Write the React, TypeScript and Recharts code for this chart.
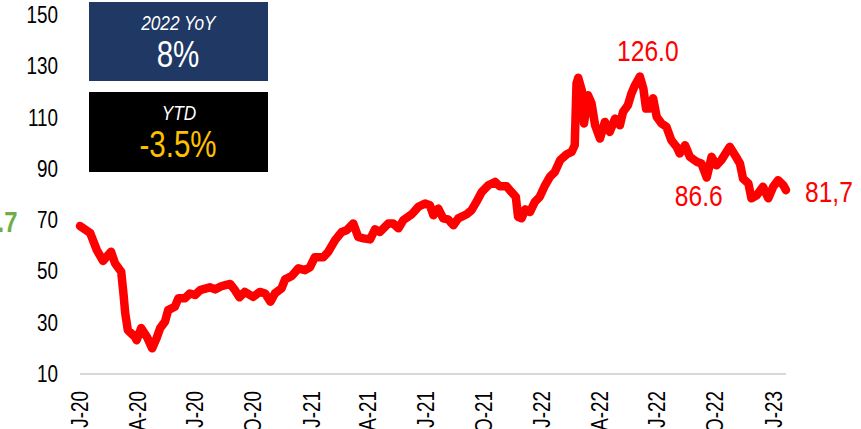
import { LineChart, Line, XAxis, YAxis, ReferenceDot } from 'recharts'

// weeks since 1 Jan 2020
const weeks = [
  0, 2.3, 3.8, 5.2, 7.0, 7.9, 9.3, 9.8, 10.2, 10.8, 12.4, 12.8, 13.8, 15.1, 16.3, 17.3, 18.1, 19.2,
  19.9, 21.4, 22.2, 23.7, 24.8, 26.0, 27.1, 29.3, 30.5, 32.0, 33.9, 35.0, 36.0, 37.2, 39.1, 40.6,
  41.8, 43.0, 44.0, 45.5, 46.3, 47.8, 49.3, 50.8, 51.9, 53.0, 54.9, 56.0, 57.6, 59.1, 60.2, 61.7,
  62.8, 64.0, 65.5, 66.6, 67.7, 69.6, 70.7, 71.9, 73.0, 74.9, 76.4, 77.9, 79.0, 79.8, 80.9, 82.0,
  83.1, 84.3, 85.4, 87.3, 88.4, 89.5, 90.7, 92.2, 93.7, 94.8, 96.3, 97.4, 98.4, 98.9, 99.7, 100.5,
  101.6, 102.7, 103.8, 105.0, 106.1, 107.2, 108.4, 109.9, 111.0, 111.7, 112.1, 112.5, 113.3, 113.8,
  114.7, 115.5, 116.3, 117.4, 118.5, 119.6, 120.8, 121.9, 122.6, 123.7, 124.5, 125.3, 126.4, 127.2,
  127.8, 128.7, 129.4, 130.2, 131.3, 132.4, 133.5, 134.7, 135.4, 136.6, 137.7, 139.2, 140.3, 141.5,
  142.6, 143.7, 144.8, 146.7, 147.9, 149.0, 149.7, 150.9, 151.6, 152.8, 154.2, 155.4, 156.5, 157.6,
  158.8, 159.4,
]

const values = [
  67.7, 65, 58.3, 54.1, 57.7, 53.2, 49.9, 41.6, 33.8, 27.1, 24.5, 23.2, 27.9, 24.5, 20, 24, 27.9, 30.4,
  34.9, 36.2, 39.5, 39.5, 41.4, 40.8, 42.7, 43.8, 43, 44.3, 45.1, 42.7, 39.9, 42, 40.1, 42,
  41.4, 38.2, 41.4, 43.4, 46.9, 48.2, 51.2, 50.5, 51.6, 55.5, 55.5, 57.5, 62.2, 65.4, 66.1, 68.7,
  63.5, 62.9, 62.5, 66.4, 65.4, 68.7, 68.7, 66.8, 70, 72.3, 75.2, 76.5, 75.8, 71.9, 74.5, 70.7,
  70.3, 68, 70.7, 72.3, 73.9, 77.1, 81, 83.6, 84.9, 83.2, 83.2, 81, 79.1, 71.3, 70.7, 74.2,
  73.2, 77.1, 79.1, 83.6, 86.9, 88.8, 93.4, 95.7, 96.6, 99.2, 123.3, 125.5, 120.6, 107.7,
  118.7, 115.5, 107, 101.8, 108.3, 104.4, 109.6, 107, 112.2, 114.8, 119.4, 122.6, 126.0, 121.3,
  113.5, 113.5, 117.5, 110.3, 107.7, 106.4, 101.2, 98.6, 96, 99.2, 94.7, 92.8, 92.1, 86.6,
  94.7, 91.4, 93.4, 98.6, 95.3, 92.1, 86.2, 84.3, 78.5, 79.7, 83, 78.5, 83, 85.6,
  83.6, 81.7,
]

const tickWeeks = [0, 13, 26, 39.1, 52.3, 65.1, 78.1, 91.3, 104.4, 117.3, 130.3, 143.4, 156.6]
const tickLabels = ['J-20', 'A-20', 'J-20', 'O-20', 'J-21', 'A-21', 'J-21', 'O-21', 'J-22', 'A-22', 'J-22', 'O-22', 'J-23']
const yTicks = [10, 30, 50, 70, 90, 110, 130, 150]

const data = weeks.map((w, i) => ({ week: w, value: values[i] }))

// no Arial Narrow available: squeeze Liberation Sans horizontally instead
const FONT = "'Liberation Sans', Arial, sans-serif"
const NARROW = 0.82
const RED = '#ff0000'

function DateTick(props: any) {
  const { x, y, payload } = props
  const label = tickLabels[tickWeeks.indexOf(payload.value)]
  return (
    <text
      transform={`translate(${x},${y + 15}) rotate(-90) scale(${NARROW},1)`}
      textAnchor="end"
      dy="0.35em"
      fontSize={23}
      fontFamily={FONT}
      fill="#000"
    >
      {label}
    </text>
  )
}

function ValueTick(props: any) {
  const { x, y, payload } = props
  return (
    <text
      transform={`translate(${x},${y}) scale(${NARROW},1)`}
      textAnchor="end"
      dy="0.35em"
      fontSize={23}
      fontFamily={FONT}
      fill="#000"
    >
      {payload.value}
    </text>
  )
}

const redLabel = (text: string, dx: number, dy: number, anchor: string) => (props: any) => {
  const { viewBox } = props
  return (
    <text
      transform={`translate(${viewBox.x + dx},${viewBox.y + dy}) scale(${NARROW},1)`}
      textAnchor={anchor}
      fontSize={30}
      fontFamily={FONT}
      fill={RED}
    >
      {text}
    </text>
  )
}

const squeeze = { display: 'inline-block', transform: `scaleX(${NARROW})` }

export default function App() {
  const lastWeek = weeks[weeks.length - 1]
  const maxIdx = values.indexOf(126.0)
  const minIdx = values.indexOf(86.6)

  return (
    <div style={{ position: 'absolute', left: 0, top: 0, width: 861, height: 429, background: '#fff', fontFamily: FONT, overflow: 'hidden' }}>
      <LineChart width={861} height={429} data={data} margin={{ top: 15, right: 75, bottom: 0, left: 20 }}>
        <XAxis
          dataKey="week"
          type="number"
          domain={[0, lastWeek]}
          ticks={tickWeeks}
          interval={0}
          tick={<DateTick />}
          tickLine={false}
          tickSize={0}
          height={55}
          axisLine={{ stroke: '#d9d9d9', strokeWidth: 2 }}
        />
        <YAxis
          domain={[10, 150]}
          ticks={yTicks}
          interval={0}
          width={60}
          axisLine={false}
          tickLine={false}
          tickSize={0}
          tickMargin={22}
          tick={<ValueTick />}
        />
        <Line
          type="linear"
          dataKey="value"
          stroke={RED}
          strokeWidth={8.5}
          strokeLinejoin="round"
          strokeLinecap="round"
          dot={false}
          isAnimationActive={false}
        />
        <ReferenceDot x={weeks[maxIdx]} y={values[maxIdx]} r={0} label={redLabel('126.0', 8, -16, 'middle')} />
        <ReferenceDot x={weeks[minIdx]} y={values[minIdx]} r={0} label={redLabel('86.6', -8, 28, 'middle')} />
        <ReferenceDot x={lastWeek} y={values[values.length - 1]} r={0} label={redLabel('81,7', 19, 12, 'start')} />
      </LineChart>

      <div style={{ position: 'absolute', left: 89, top: 2, width: 179, height: 79, background: '#203864', color: '#fff', textAlign: 'center' }}>
        <div style={{ fontSize: 21, fontStyle: 'italic', lineHeight: '21px', marginTop: 10 }}><span style={squeeze}>2022 YoY</span></div>
        <div style={{ fontSize: 36, lineHeight: '36px', marginTop: 4 }}><span style={squeeze}>8%</span></div>
      </div>
      <div style={{ position: 'absolute', left: 89, top: 92, width: 179, height: 80, background: '#000', color: '#fff', textAlign: 'center' }}>
        <div style={{ fontSize: 21, fontStyle: 'italic', lineHeight: '21px', marginTop: 10 }}><span style={squeeze}>YTD</span></div>
        <div style={{ fontSize: 36, lineHeight: '36px', marginTop: 4, color: '#ffc000' }}><span style={squeeze}>-3.5%</span></div>
      </div>
      <div style={{ position: 'absolute', right: 844, top: 206, fontSize: 29, fontWeight: 'bold', color: '#70ad47', whiteSpace: 'nowrap' }}>
        <span style={{ ...squeeze, transformOrigin: 'right center' }}>67.7</span>
      </div>
    </div>
  )
}
